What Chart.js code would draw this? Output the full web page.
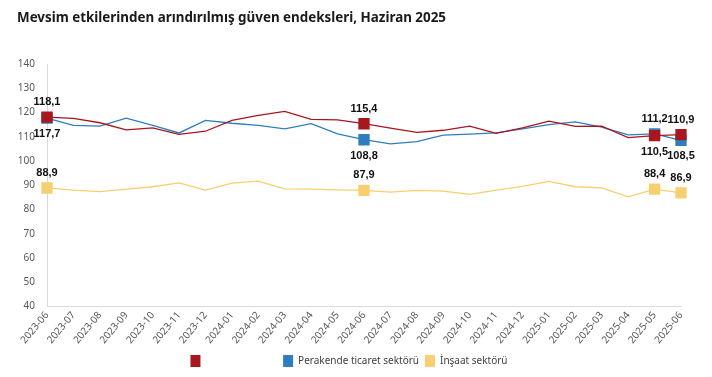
<!DOCTYPE html>
<html>
<head>
<meta charset="utf-8">
<script src="https://cdn.jsdelivr.net/npm/chart.js@4.4.1/dist/chart.umd.min.js"></script>
<style>
  html, body { margin: 0; padding: 0; background: #fff; }
  #wrap { position: relative; width: 712px; height: 377px; }
</style>
</head>
<body>
<div id="wrap"><canvas id="chart" width="712" height="377"></canvas></div>
<script>
// Months shown on the x axis
const months = [
  '2023-06', '2023-07', '2023-08', '2023-09', '2023-10', '2023-11', '2023-12',
  '2024-01', '2024-02', '2024-03', '2024-04', '2024-05', '2024-06', '2024-07',
  '2024-08', '2024-09', '2024-10', '2024-11', '2024-12', '2025-01', '2025-02',
  '2025-03', '2025-04', '2025-05', '2025-06'
];

// Seasonally adjusted confidence indices
const hizmet = [118.1, 117.6, 115.8, 112.9, 113.7, 111.0, 112.3, 116.8, 118.8, 120.5, 117.2, 117.0,
  115.4, 113.6, 111.8, 112.7, 114.4, 111.4, 113.7, 116.5, 114.3, 114.4, 109.7, 110.5, 110.9];
const perakende = [117.7, 114.7, 114.4, 117.7, 114.7, 111.6, 116.8, 115.6, 114.7, 113.3, 115.4, 111.2,
  108.8, 107.1, 108.0, 110.7, 111.1, 111.6, 113.3, 115.0, 116.2, 114.0, 110.8, 111.2, 108.5];
const insaat = [88.9, 88.0, 87.4, 88.4, 89.4, 91.0, 88.0, 90.9, 91.7, 88.5, 88.4, 88.1,
  87.9, 87.2, 87.9, 87.6, 86.3, 88.0, 89.6, 91.6, 89.4, 88.9, 85.2, 88.4, 86.9];

// Points that get a marker and a value label
const labelled = [0, 12, 23, 24];

const yTicks = [40, 50, 60, 70, 80, 90, 100, 110, 120, 130, 140];

const FONT = '"Noto Sans", "Open Sans", sans-serif';

function markerSizes(n) {
  return months.map((m, i) => labelled.includes(i) ? n : 0);
}

// Draw the value labels above / below the markers
const valueLabels = {
  id: 'valueLabels',
  afterDatasetsDraw(chart) {
    const ctx = chart.ctx;
    const data = chart.data.datasets;
    ctx.save();
    ctx.font = 'bold 11px "Liberation Sans", Arial, sans-serif';
    ctx.fillStyle = '#111';
    ctx.textAlign = 'center';
    ctx.textBaseline = 'middle';
    labelled.forEach(i => {
      data.forEach((ds, d) => {
        const pt = chart.getDatasetMeta(d).data[i];
        let above = true;
        if (d === 0) above = ds.data[i] >= data[1].data[i];
        if (d === 1) above = ds.data[i] > data[0].data[i];
        const txt = ds.data[i].toFixed(1).replace('.', ',');
        const y = above ? pt.y - 15 : pt.y + 16;
        ctx.fillText(txt, pt.x, y);
      });
    });
    ctx.restore();
  }
};

const ctx = document.getElementById('chart').getContext('2d');
const chart = new Chart(ctx, {
  type: 'line',
  data: {
    labels: months,
    datasets: [
      {
        label: 'Hizmet sektörü',
        data: hizmet,
        borderColor: '#a8161e',
        backgroundColor: '#a8161e',
        borderWidth: 1.3,
        pointStyle: 'rect',
        pointRadius: markerSizes(8),
        pointBorderWidth: 0,
        tension: 0
      },
      {
        label: 'Perakende ticaret sektörü',
        data: perakende,
        borderColor: '#2e7ebf',
        backgroundColor: '#2e7ebf',
        borderWidth: 1.3,
        pointStyle: 'rect',
        pointRadius: markerSizes(8),
        pointBorderWidth: 0,
        tension: 0
      },
      {
        label: 'İnşaat sektörü',
        data: insaat,
        borderColor: '#f7cf70',
        backgroundColor: '#f7cf70',
        borderWidth: 1.3,
        pointStyle: 'rect',
        pointRadius: markerSizes(8),
        pointBorderWidth: 0,
        tension: 0
      }
    ]
  },
  options: {
    responsive: false,
    animation: false,
    layout: { padding: { left: 17, right: 31, top: 8, bottom: 0 } },
    plugins: {
      title: {
        display: true,
        text: 'Mevsim etkilerinden arındırılmış güven endeksleri, Haziran 2025',
        align: 'start',
        color: '#1a1a1a',
        font: { family: FONT, size: 13.4, weight: 'bold' },
        padding: { top: 2, bottom: 38 }
      },
      legend: {
        position: 'bottom',
        labels: {
          boxWidth: 10,
          boxHeight: 12,
          color: '#404040',
          font: { family: FONT, size: 10 },
          padding: 6,
          generateLabels(chart) {
            const items = Chart.defaults.plugins.legend.labels.generateLabels(chart);
            items.forEach(it => {
              it.lineWidth = 0;
              // first series has no visible name in the original legend
              if (it.datasetIndex === 0) it.fontColor = 'rgba(0,0,0,0)';
            });
            return items;
          }
        }
      },
      tooltip: { enabled: false }
    },
    scales: {
      x: {
        grid: { display: false, drawTicks: false },
        border: { display: true, color: '#d9d9d9' },
        ticks: {
          color: '#595959',
          font: { family: FONT, size: 10 },
          padding: 3,
          minRotation: 50,
          maxRotation: 50,
          autoSkip: false
        }
      },
      y: {
        min: 40,
        max: 140,
        afterBuildTicks(axis) { axis.ticks = yTicks.map(v => ({ value: v })); },
        afterFit(axis) { axis.width = 30; },
        grid: { display: false, drawTicks: false },
        border: { display: true, color: '#d9d9d9' },
        ticks: {
          color: '#595959',
          font: { family: FONT, size: 10 },
          padding: 12
        }
      }
    }
  },
  plugins: [valueLabels]
});
</script>
</body>
</html>
